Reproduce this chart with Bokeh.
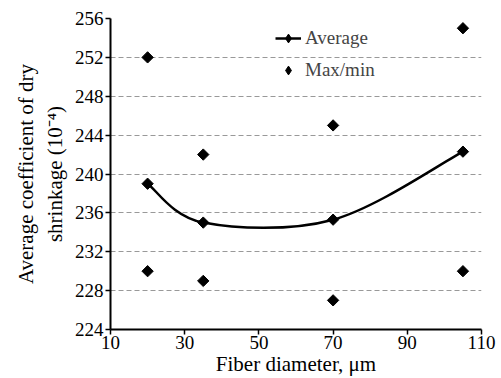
import math
from bokeh.plotting import figure
from bokeh.embed import file_html
from bokeh.resources import INLINE
from bokeh.models import FixedTicker, Legend, LegendItem, Range1d

fiber = [20, 35, 70, 105]
average = [239.0, 235.0, 235.3, 242.3]
maximum = [252, 242, 245, 255]
minimum = [230, 229, 227, 230]
x_ticks = [10, 30, 50, 70, 90, 110]
y_ticks = [224, 228, 232, 236, 240, 244, 248, 252, 256]

FONT = "Liberation Serif"
MK = dict(marker="square", angle=math.pi / 4, size=8, color="black")

p = figure(width=501, height=378, output_backend="svg", toolbar_location=None,
           x_range=Range1d(10, 110), y_range=Range1d(224, 256),
           min_border_left=110, min_border_right=20, min_border_top=18, min_border_bottom=47)
p.outline_line_color = None
p.background_fill_color = "white"

# smooth curve via cubic Bezier (Catmull-Rom control points)
pts = list(zip(fiber, average))
x0s, y0s, x1s, y1s, cx0, cy0, cx1, cy1 = [], [], [], [], [], [], [], []
n = len(pts)
for i in range(n - 1):
    P0 = pts[i - 1] if i > 0 else pts[i]
    P1 = pts[i]
    P2 = pts[i + 1]
    P3 = pts[i + 2] if i + 2 < n else pts[i + 1]
    x0s.append(P1[0]); y0s.append(P1[1]); x1s.append(P2[0]); y1s.append(P2[1])
    cx0.append(P1[0] + (P2[0] - P0[0]) / 6); cy0.append(P1[1] + (P2[1] - P0[1]) / 6)
    cx1.append(P2[0] - (P3[0] - P1[0]) / 6); cy1.append(P2[1] - (P3[1] - P1[1]) / 6)
p.bezier(x0=x0s, y0=y0s, x1=x1s, y1=y1s, cx0=cx0, cy0=cy0, cx1=cx1, cy1=cy1,
         line_color="black", line_width=2.5)
p.scatter(fiber, average, **MK)
p.scatter(fiber, maximum, **MK)
p.scatter(fiber, minimum, **MK)

# legend proxies (one NaN point each, so nothing is drawn in the plot)
nan = float("nan")
leg_line = p.line([nan], [nan], line_color="black", line_width=2.5)
leg_pt = p.scatter([nan], [nan], marker="diamond", size=10, color="black")
leg_mm = p.scatter([nan], [nan], marker="diamond", size=10, color="black")
legend = Legend(items=[LegendItem(label="Average", renderers=[leg_line, leg_pt]),
                       LegendItem(label="Max/min", renderers=[leg_mm])],
                location=(165, 248), border_line_color=None, background_fill_alpha=0,
                label_text_font=FONT, label_text_font_size="19px", spacing=10,
                glyph_width=26, glyph_height=22, label_standoff=4, padding=0, margin=0)
p.add_layout(legend, "center")

p.xaxis.ticker = FixedTicker(ticks=x_ticks)
p.yaxis.ticker = FixedTicker(ticks=y_ticks)
p.xgrid.visible = False
p.ygrid.grid_line_color = "#999999"
p.ygrid.grid_line_dash = "5 3"
p.ygrid.grid_line_width = 1.2

for ax in (p.xaxis, p.yaxis):
    ax.axis_line_color = "black"
    ax.axis_line_width = 2
    ax.major_tick_line_color = "black"
    ax.major_tick_line_width = 1.5
    ax.major_tick_out = 5
    ax.major_tick_in = 0
    ax.minor_tick_line_color = None
    ax.major_label_text_font = FONT
    ax.major_label_text_font_size = "19px"
    ax.major_label_text_color = "black"
    ax.axis_label_text_font = FONT
    ax.axis_label_text_font_size = "21px"
    ax.axis_label_text_font_style = "normal"
    ax.axis_label_text_color = "black"

p.xaxis.axis_label = "Fiber diameter, μm"
p.xaxis.axis_label_standoff = 0
p.xaxis.major_label_standoff = 1
p.yaxis.axis_label = "Average coefficient of dry\nshrinkage (10⁻⁴)"
p.yaxis.axis_label_standoff = 5
p.yaxis.major_label_standoff = 2

open("out.html", "w").write(file_html(p, INLINE))
